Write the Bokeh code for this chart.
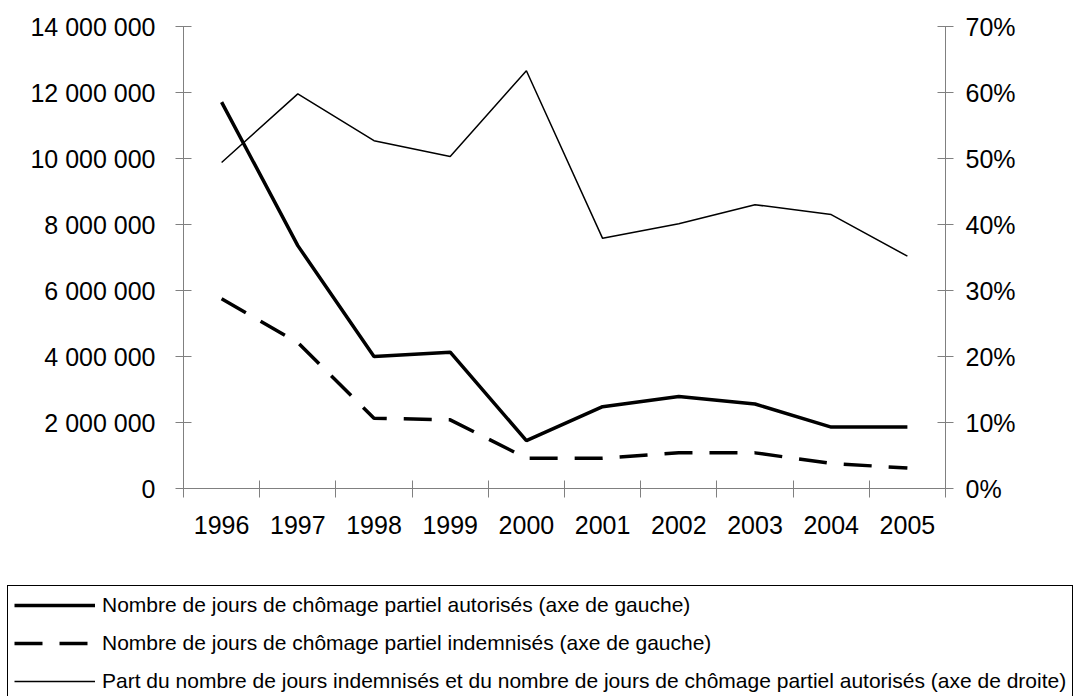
from bokeh.plotting import figure
from bokeh.models import (Range1d, LinearAxis, FixedTicker, NumeralTickFormatter,
                          Legend, LegendItem, ColumnDataSource)
from bokeh.embed import file_html
from bokeh.resources import INLINE

years = ["1996", "1997", "1998", "1999", "2000", "2001", "2002", "2003", "2004", "2005"]
jours_autorises = [11710000, 7360000, 4000000, 4130000, 1450000, 2480000, 2790000, 2560000, 1860000, 1860000]
jours_indemnises = [5750000, 4420000, 2130000, 2080000, 920000, 920000, 1080000, 1080000, 760000, 620000]
part_indemnises = [0.494, 0.598, 0.527, 0.503, 0.633, 0.379, 0.401, 0.430, 0.415, 0.352]
left_ticks = [0, 2000000, 4000000, 6000000, 8000000, 10000000, 12000000, 14000000]
right_ticks = [0, 0.1, 0.2, 0.3, 0.4, 0.5, 0.6, 0.7]
labels = [
    "Nombre de jours de chômage partiel autorisés (axe de gauche)",
    "Nombre de jours de chômage partiel indemnisés (axe de gauche)",
    "Part du nombre de jours indemnisés et du nombre de jours de chômage partiel autorisés (axe de droite)",
]

FONT = "Liberation Sans"
GRAY = "#808080"
TOP_H = 560
W = 1087
H = 696

xs = [i + 0.5 for i in range(len(years))]
src = ColumnDataSource(dict(x=xs, a=jours_autorises, i=jours_indemnises, p=part_indemnises))

p = figure(width=W, height=TOP_H, output_backend="svg", toolbar_location=None,
           x_range=Range1d(0, len(years)), y_range=Range1d(0, 14000000),
           min_border_left=183, min_border_right=142, min_border_top=26,
           min_border_bottom=TOP_H - 488,
           y_axis_location=None, x_axis_location=None)
p.outline_line_color = None
p.grid.visible = False
p.extra_y_ranges = {"pct": Range1d(0, 0.7)}

# x axis: labels at centres, ticks at category boundaries (minor ticks)
xaxis = LinearAxis(ticker=FixedTicker(ticks=xs, minor_ticks=list(range(len(years) + 1))))
xaxis.major_label_overrides = {x: y for x, y in zip(xs, years)}
xaxis.major_tick_in = 0
xaxis.major_tick_out = 0
xaxis.minor_tick_in = 8
xaxis.minor_tick_out = 9
xaxis.minor_tick_line_color = GRAY
xaxis.axis_line_color = GRAY
xaxis.major_label_standoff = 18
p.add_layout(xaxis, "below")

yaxis = LinearAxis(ticker=FixedTicker(ticks=left_ticks))
yaxis.major_label_overrides = {v: f"{v:,}".replace(",", " ") for v in left_ticks}
yaxis.major_label_standoff = 20
p.add_layout(yaxis, "left")

raxis = LinearAxis(y_range_name="pct", ticker=FixedTicker(ticks=right_ticks),
                   formatter=NumeralTickFormatter(format="0%"))
raxis.major_label_standoff = 12
p.add_layout(raxis, "right")

for ax in (yaxis, raxis):
    ax.major_tick_in = 8
    ax.major_tick_out = 8
    ax.minor_tick_line_color = None
    ax.major_tick_line_color = GRAY
    ax.axis_line_color = GRAY
for ax in (xaxis, yaxis, raxis):
    ax.major_label_text_font = FONT
    ax.major_label_text_font_size = "25px"
    ax.major_label_text_color = "black"

styles = [dict(line_width=3.5), dict(line_width=3.5, line_dash="28 17"), dict(line_width=1.5)]
p.line("x", "a", source=src, line_color="black", **styles[0])
p.line("x", "i", source=src, line_color="black", **styles[1])
p.line("x", "p", source=src, y_range_name="pct", line_color="black", **styles[2])

# legend panel: a second figure under the chart; its own copies of the three
# series lie outside its (empty) ranges, so only the legend is visible.
q = figure(width=W, height=H - TOP_H, output_backend="svg", toolbar_location=None,
           x_range=Range1d(-20, -19), y_range=Range1d(-20, -19),
           min_border=0, x_axis_location=None, y_axis_location=None)
q.outline_line_color = None
q.grid.visible = False
lr = [q.line("x", col, source=src, line_color="black", **s)
      for col, s in zip(["a", "i", "p"], styles)]

legend = Legend(items=[LegendItem(label=lab, renderers=[r]) for lab, r in zip(labels, lr)],
                location=(7, -5), orientation="vertical")
legend.label_text_font = FONT
legend.label_text_font_size = "21px"
legend.label_text_color = "black"
legend.glyph_width = 81
legend.glyph_height = 26
legend.label_height = 26
legend.label_standoff = 7
legend.spacing = 12
legend.padding = 6
legend.margin = 0
legend.border_line_color = "black"
legend.border_line_width = 1
legend.border_line_alpha = 1
legend.background_fill_alpha = 1
q.add_layout(legend, "center")

open("out.html", "w").write(file_html([p, q], INLINE))
